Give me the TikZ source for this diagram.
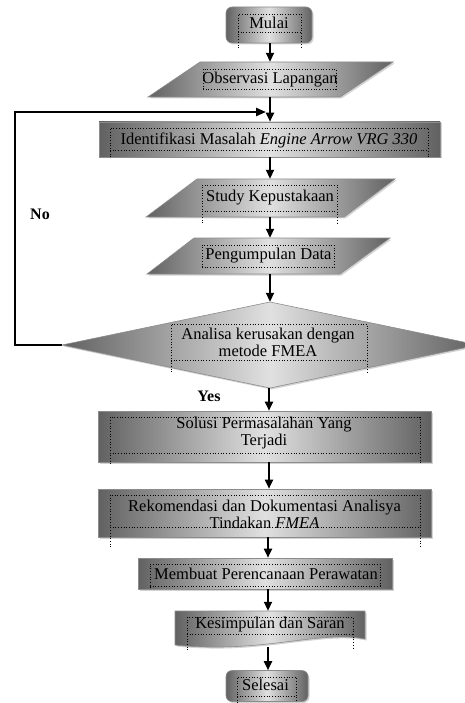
\documentclass[tikz,border=0pt]{standalone}
\usepackage{fontspec}
\setmainfont{Liberation Serif}
\usetikzlibrary{arrows.meta,shadows}
\newcommand\txtframe[5]{\draw[dotb] (#1,#5) -- (#1,#3) -- (#2,#3) -- (#2,#5); \draw[dotb] (#1,#4) -- (#2,#4);}
\begin{document}
\begin{tikzpicture}[x=1pt,y=-1pt,
  blk/.style={left color=black!62, right color=black!62, middle color=black!12, draw=black!45, line width=0.6pt,
              drop shadow={opacity=0.35, shadow xshift=1.5pt, shadow yshift=-1.5pt}},
  txt/.style={font=\fontsize{16.5}{17}\selectfont, align=center, inner sep=0pt},
  arr/.style={line width=1.8pt, -{Triangle[length=9pt,width=8pt]}},
  fbline/.style={line width=2.4pt, -{Triangle[length=10pt,width=8pt]}},
  dotb/.style={dotted, line width=0.7pt, black},
  lbl/.style={font=\fontsize{16}{17}\selectfont\bfseries, inner sep=0pt}]
\useasboundingbox (0,0) rectangle (464,703);
\coordinate (ax) at (270,0);
\coordinate (bx) at (269,0);
\coordinate (cx) at (268,0);

% Mulai
\node[blk, rounded corners=6pt, minimum width=86pt, minimum height=36pt, inner sep=0pt] (mulai) at (269,25) {};
\node[txt] (mulait) at (269,23) {Mulai};
\txtframe{238}{301}{14}{32}{48}

% Observasi Lapangan
\path[blk] (200,62) -- (393,62) -- (340,97) -- (148,97) -- cycle;
\node[txt, minimum height=35pt, minimum width=190pt] (obs) at (270,79.5) {Observasi Lapangan};
\txtframe{203}{336}{69}{89}{89}

% Identifikasi
\node[blk, minimum width=341pt, minimum height=35pt, inner sep=0pt] (ident) at (269.5,139.5) {};
\node[txt] (identt) at (269,140) {Identifikasi Masalah \textit{Engine Arrow VRG 330}};
\txtframe{110}{428}{128}{150}{157}

% Study Kepustakaan
\path[blk] (197,179) -- (395,179) -- (344,217) -- (146,217) -- cycle;
\node[txt, minimum height=38pt, minimum width=190pt] (study) at (270,198) {Study Kepustakaan};
\txtframe{202}{337}{185}{211}{223}

% Pengumpulan Data
\path[blk] (194,238) -- (390,238) -- (340,274) -- (147,274) -- cycle;
\node[txt, minimum height=36pt, minimum width=190pt] (peng) at (268.5,256) {Pengumpulan Data};
\txtframe{202}{334}{245}{267}{267}

% Decision
\path[blk] (270,302) -- (478,345) -- (270,388) -- (62,345) -- cycle;
\node[minimum width=416pt, minimum height=86pt, inner sep=0pt] (dec) at (270,345) {};
\node[txt] (dect) at (268,342.5) {Analisa kerusakan dengan\\metode FMEA};
\txtframe{171}{367}{324}{360}{372}

% Solusi
\node[blk, minimum width=333pt, minimum height=51pt, inner sep=0pt] (solusi) at (264.5,436.5) {};
\node[txt] (solusit) at (264,433.5) {Solusi Permasalahan Yang\\Terjadi};
\txtframe{110}{420}{417}{453}{464}

% Rekomendasi
\node[blk, minimum width=333pt, minimum height=48pt, inner sep=0pt] (rek) at (264.5,513) {};
\begin{scope}
\clip (98,489) rectangle (431,529);
\node[txt] (rekt) at (264.5,514) {Rekomendasi dan Dokumentasi Analisya\\Tindakan \textit{FMEA}};
\end{scope}
\txtframe{110}{420}{495}{527}{547}

% Membuat
\node[blk, minimum width=254pt, minimum height=31pt, inner sep=0pt] (buat) at (265,573.5) {};
\node[txt] (buatt) at (266,574) {Membuat Perencanaan Perawatan};
\txtframe{150}{380}{564}{586}{588}

% Kesimpulan (document shape)
\path[blk] (175,611) -- (365,611) -- (365,639) .. controls (320,630) and (260,654) .. (175,645) -- cycle;
\node[txt, minimum height=36pt, minimum width=180pt] (kes) at (270,629) {};
\node[txt] (kest) at (270,625) {Kesimpulan dan Saran};
\txtframe{187}{353}{617}{634}{650}

% Selesai
\node[blk, rounded corners=6pt, minimum width=82pt, minimum height=31pt, inner sep=0pt] (selesai) at (267,686) {};
\node[txt] (selesait) at (265.5,685) {Selesai};
\txtframe{237}{296}{677}{696}{703}

% Connectors
\draw[arr] (mulai.south -| ax) -- (obs.north -| ax);
\draw[arr] (obs.south -| ax) -- (ident.north -| ax);
\draw[arr] (ident.south -| ax) -- (study.north -| ax);
\draw[arr] (study.south -| ax) -- (peng.north -| ax);
\draw[arr] (peng.south -| ax) -- (dec.north -| ax);
\draw[arr] (dec.south -| bx) -- (solusi.north -| bx);
\draw[arr] (solusi.south -| bx) -- (rek.north -| bx);
\draw[arr] (rek.south -| cx) -- (buat.north -| cx);
\draw[arr] (buat.south -| cx) -- (kes.north -| cx);
\draw[arr] (kes.south -| cx) -- (selesai.north -| cx);

\coordinate (fbend) at (266,112);
\draw[fbline] (dec.west) -- ++(-47,0) |- (fbend);

\node[lbl] (no) at (40,214) {No};
\node[lbl] (yes) at (209,396) {Yes};
\end{tikzpicture}
\end{document}
